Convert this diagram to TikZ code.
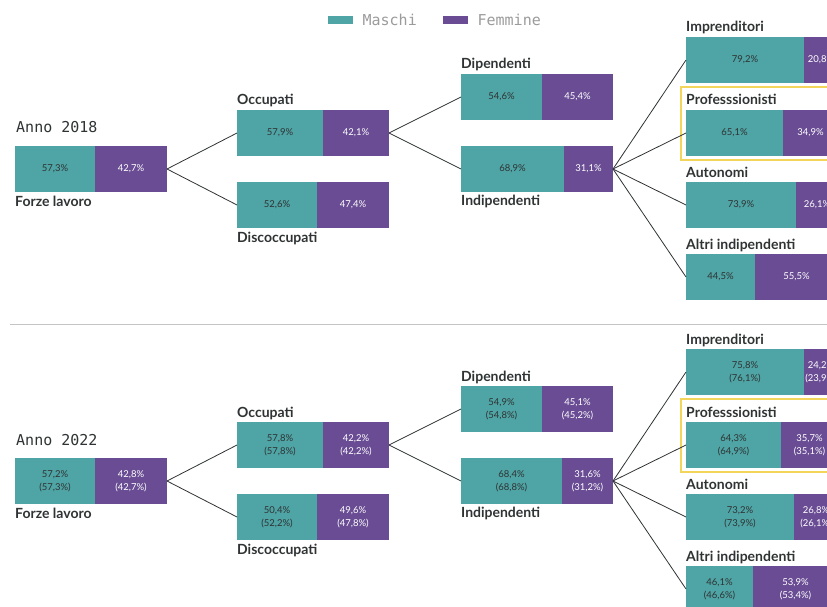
\documentclass[tikz,border=0pt]{standalone}
\usepackage{fontspec}
\setmainfont{Lato}
\setmonofont{DejaVu Sans Mono}
\usetikzlibrary{positioning,calc}
\definecolor{maschiclr}{HTML}{4FA4A5}
\definecolor{femmineclr}{HTML}{694C93}
\definecolor{txtdark}{HTML}{2F3333}
\definecolor{legendgray}{HTML}{9B9B9B}
\definecolor{boxyellow}{HTML}{F3D55B}
\definecolor{rulegray}{HTML}{C4C4C4}

% one bar in two parts: name, x, y (top), teal width, text M, text F
\newcommand{\gbar}[6]{%
  \node[mbar, minimum width=#4pt, anchor=north west] (#1-m) at (#2,#3) {#5};
  \node[fbar, minimum width={152pt-#4pt}, anchor=north west] (#1-f)
    at (#1-m.north east) {#6};
}

\begin{document}
\begin{tikzpicture}[
    x=1pt, y=-1pt,
    mbar/.style={fill=maschiclr, text=txtdark, minimum height=46pt,
                 inner sep=0pt, outer sep=0pt, align=center,
                 font=\fontsize{9.5}{13}\selectfont},
    fbar/.style={mbar, fill=femmineclr, text=white},
    lbl/.style={font=\fontsize{14}{16}\selectfont\bfseries, text=txtdark,
                inner sep=0pt},
    mono/.style={font=\fontsize{15}{17}\selectfont\ttfamily, inner sep=0pt},
    conn/.style={draw=txtdark, line width=0.8pt},
    hibox/.style={draw=boxyellow, line width=1.5pt},
  ]
  \useasboundingbox (0,0) rectangle (827,607);
  \clip (0,0) rectangle (827,607);

  % legend
  \node[fill=maschiclr, minimum width=25pt, minimum height=8pt, inner sep=0pt,
        anchor=north west] (legM) at (328,16) {};
  \node[mono, text=legendgray, right=9pt of legM] (legMt) {Maschi};
  \node[fill=femmineclr, minimum width=25pt, minimum height=8pt, inner sep=0pt,
        anchor=north west] (legF) at (443,16) {};
  \node[mono, text=legendgray, right=9pt of legF] (legFt) {Femmine};

  % 2018
  \node[mono, text=txtdark, anchor=base west] (annoA) at (16,133) {Anno 2018};
  \draw[hibox] (681,87) rectangle (850,160);
  \gbar{forzeA}{15}{146}{80}{57,3\%}{42,7\%}
  \gbar{occA}{237}{110}{86}{57,9\%}{42,1\%}
  \gbar{disA}{237}{182}{80}{52,6\%}{47,4\%}
  \gbar{dipA}{461}{74}{81}{54,6\%}{45,4\%}
  \gbar{indA}{461}{146}{103}{68,9\%}{31,1\%}
  \gbar{impA}{686}{37}{118}{79,2\%}{20,8\%}
  \gbar{proA}{686}{110}{97}{65,1\%}{34,9\%}
  \gbar{autA}{686}{182}{110}{73,9\%}{26,1\%}
  \gbar{altA}{686}{254}{69}{44,5\%}{55,5\%}

  \draw[draw=rulegray, line width=1pt] (10,324) -- (827,324);

  % 2022
  \begin{scope}[yshift=-312pt]
    \node[mono, text=txtdark, anchor=base west] (annoB) at (16,133) {Anno 2022};
    \draw[hibox] (681,87) rectangle (850,160);
    \gbar{forzeB}{15}{146}{80}{57,2\%\\(57,3\%)}{42,8\%\\(42,7\%)}
    \gbar{occB}{237}{110}{86}{57,8\%\\(57,8\%)}{42,2\%\\(42,2\%)}
    \gbar{disB}{237}{182}{80}{50,4\%\\(52,2\%)}{49,6\%\\(47,8\%)}
    \gbar{dipB}{461}{74}{81}{54,9\%\\(54,8\%)}{45,1\%\\(45,2\%)}
    \gbar{indB}{461}{146}{101}{68,4\%\\(68,8\%)}{31,6\%\\(31,2\%)}
    \gbar{impB}{686}{37}{118}{75,8\%\\(76,1\%)}{24,2\%\\(23,9\%)}
    \gbar{proB}{686}{110}{95}{64,3\%\\(64,9\%)}{35,7\%\\(35,1\%)}
    \gbar{autB}{686}{182}{108}{73,2\%\\(73,9\%)}{26,8\%\\(26,1\%)}
    \gbar{altB}{686}{254}{67}{46,1\%\\(46,6\%)}{53,9\%\\(53,4\%)}
  \end{scope}

  % labels and connectors, both years
  \foreach \s in {A,B}{
    \node[lbl, anchor=base west] at ([yshift=-14pt]forze\s-m.south west) {Forze lavoro};
    \node[lbl, anchor=base west] at ([yshift=5pt]occ\s-m.north west) {Occupati};
    \node[lbl, anchor=base west] at ([yshift=-14pt]dis\s-m.south west) {Discoccupati};
    \node[lbl, anchor=base west] at ([yshift=5pt]dip\s-m.north west) {Dipendenti};
    \node[lbl, anchor=base west] at ([yshift=-13pt]ind\s-m.south west) {Indipendenti};
    \node[lbl, anchor=base west] at ([yshift=5pt]imp\s-m.north west) {Imprenditori};
    \node[lbl, anchor=base west] at ([yshift=5pt]pro\s-m.north west) {Professsionisti};
    \node[lbl, anchor=base west] at ([yshift=5pt]aut\s-m.north west) {Autonomi};
    \node[lbl, anchor=base west] at ([yshift=5pt]alt\s-m.north west) {Altri indipendenti};

    \draw[conn] (forze\s-f.east) -- (occ\s-m.west);
    \draw[conn] (forze\s-f.east) -- (dis\s-m.west);
    \draw[conn] (occ\s-f.east) -- (dip\s-m.west);
    \draw[conn] (occ\s-f.east) -- (ind\s-m.west);
    \foreach \t in {imp,pro,aut,alt}
      \draw[conn] (ind\s-f.east) -- (\t\s-m.west);
  }
\end{tikzpicture}
\end{document}
